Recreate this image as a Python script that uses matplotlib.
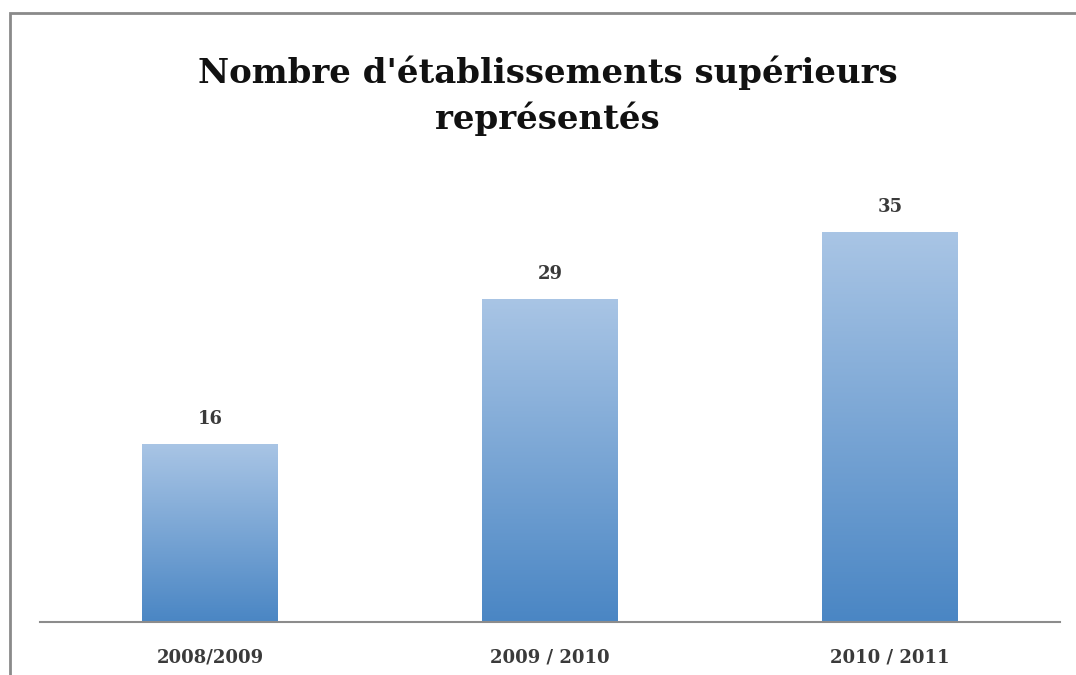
import matplotlib
matplotlib.use("Agg")
import matplotlib.pyplot as plt
import numpy as np
from matplotlib.colors import LinearSegmentedColormap
from matplotlib.patches import Rectangle

YEARS = ["2008/2009", "2009 / 2010", "2010 / 2011"]
COUNTS = [16, 29, 35]
TITLE = "Nombre d'établissements supérieurs\nreprésentés"

SERIF = "DejaVu Serif"
GRAD = LinearSegmentedColormap.from_list("bar_grad", ["#4a86c4", "#a9c5e5"])

fig = plt.figure(figsize=(10.76, 6.75), dpi=100)
ax = fig.add_axes([0.0372, 0.0785, 0.9479, 0.6602])

# grey frame, only top and left edges are visible in the crop
fig.patches.append(Rectangle((0.0093, -0.05), 1.2, 1.0307, transform=fig.transFigure,
                             fill=False, edgecolor="#8a8a8a", linewidth=2.0))

x = np.arange(len(YEARS))
width = 0.4
bars = ax.bar(x, COUNTS, width=width, color="none", edgecolor="none")
grad = np.linspace(0, 1, 256).reshape(-1, 1)
for b in bars:
    im = ax.imshow(grad, cmap=GRAD, aspect="auto", origin="lower",
                   extent=(b.get_x(), b.get_x() + b.get_width(), 0, b.get_height()))
    im.set_clip_path(b)

for xi, v in zip(x, COUNTS):
    ax.text(xi, v + 1.4, str(v), ha="center", va="bottom", fontsize=13,
            family=SERIF, fontweight="bold", color="#3a3a3a")

ax.set_xlim(-0.5, len(YEARS) - 0.5)
ax.set_ylim(0, 40)
ax.set_xticks(x)
ax.set_xticklabels(YEARS, family=SERIF, fontsize=13, fontweight="bold", color="#3a3a3a")
ax.tick_params(axis="x", length=0, pad=19)
ax.set_yticks([])
for side in ["top", "right", "left"]:
    ax.spines[side].set_visible(False)
ax.spines["bottom"].set_color("#8c8c8c")
ax.spines["bottom"].set_linewidth(1.5)

fig.text(0.509, 0.858, TITLE, ha="center", va="center", fontsize=24.5,
         family=SERIF, fontweight="bold", color="#111111", linespacing=1.4)

fig.savefig("out.png", dpi=100, facecolor="white")
